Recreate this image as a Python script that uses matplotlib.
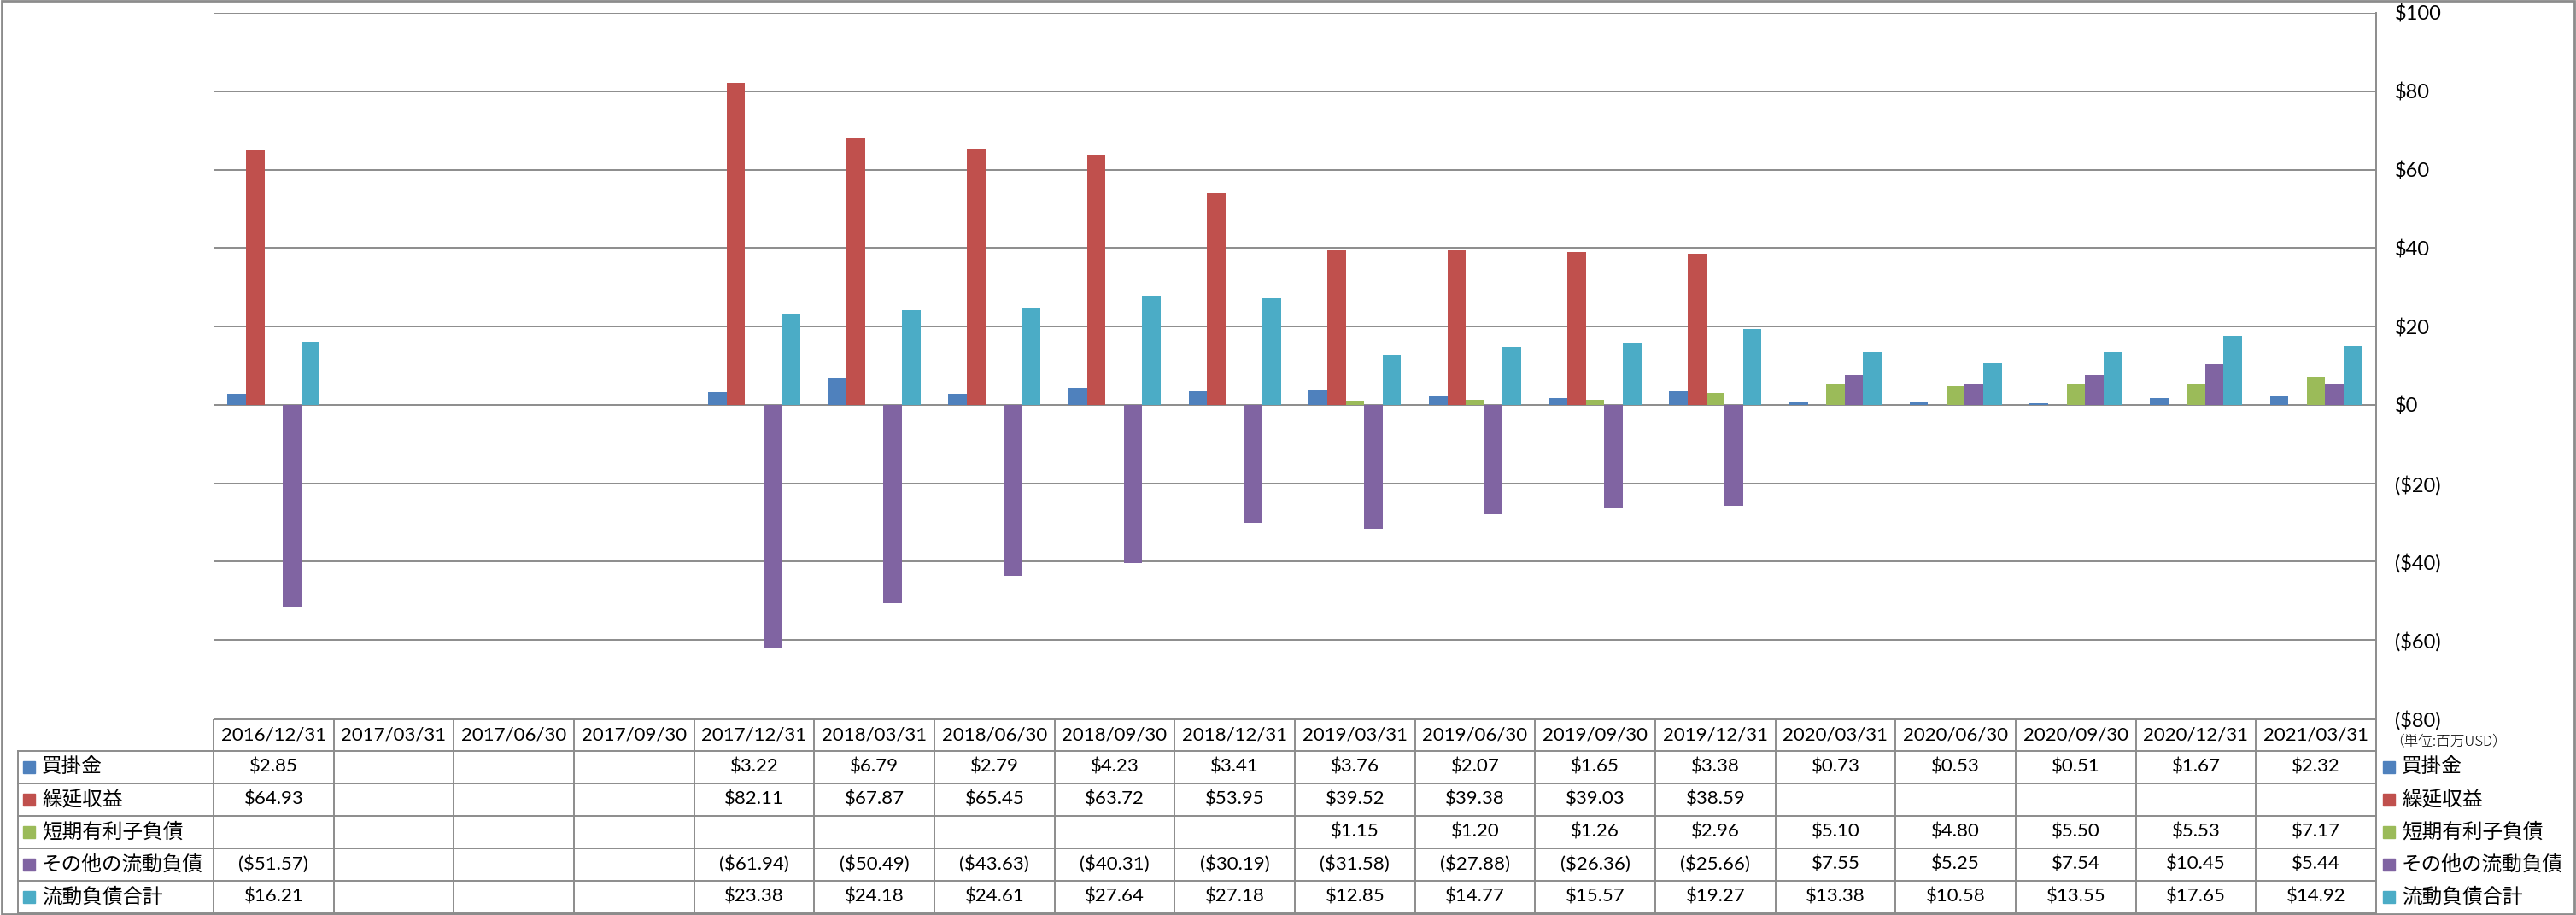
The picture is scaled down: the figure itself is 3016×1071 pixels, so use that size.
import numpy as np
import matplotlib.pyplot as plt
import matplotlib.transforms as mtransforms
from matplotlib.patches import Rectangle
from matplotlib.lines import Line2D

plt.rcParams['font.family'] = ['Lato', 'Noto Sans CJK JP', 'DejaVu Sans']

dates = ['2016/12/31', '2017/03/31', '2017/06/30', '2017/09/30', '2017/12/31',
         '2018/03/31', '2018/06/30', '2018/09/30', '2018/12/31', '2019/03/31',
         '2019/06/30', '2019/09/30', '2019/12/31', '2020/03/31', '2020/06/30',
         '2020/09/30', '2020/12/31', '2021/03/31']

kaikake = [2.85, None, None, None, 3.22, 6.79, 2.79, 4.23, 3.41, 3.76,
           2.07, 1.65, 3.38, 0.73, 0.53, 0.51, 1.67, 2.32]
kurinobe = [64.93, None, None, None, 82.11, 67.87, 65.45, 63.72, 53.95, 39.52,
            39.38, 39.03, 38.59, None, None, None, None, None]
tanki = [None, None, None, None, None, None, None, None, None, 1.15,
         1.20, 1.26, 2.96, 5.10, 4.80, 5.50, 5.53, 7.17]
sonota = [-51.57, None, None, None, -61.94, -50.49, -43.63, -40.31, -30.19, -31.58,
          -27.88, -26.36, -25.66, 7.55, 5.25, 7.54, 10.45, 5.44]
goukei = [16.21, None, None, None, 23.38, 24.18, 24.61, 27.64, 27.18, 12.85,
          14.77, 15.57, 19.27, 13.38, 10.58, 13.55, 17.65, 14.92]

names = ['買掛金', '繰延収益', '短期有利子負債', 'その他の流動負債', '流動負債合計']
series = [kaikake, kurinobe, tanki, sonota, goukei]
colors = ['#4F81BD', '#C0504D', '#9BBB59', '#8064A2', '#4BACC6']
grid_c = '#8c8c8c'


def money(v):
    if v is None:
        return ''
    if v < 0:
        return '(${:.2f})'.format(-v)
    return '${:.2f}'.format(v)


W, H = 3016, 1071
fig = plt.figure(figsize=(W / 100, H / 100), dpi=100)


def fx(px):
    return px / W


def fy(py):
    return 1 - py / H


ax = fig.add_axes([fx(250), fy(841), fx(2782) - fx(250), fy(15) - fy(841)])
n = len(dates)
x = np.arange(n)
bw = 1 / 6.5
for k, (vals, c) in enumerate(zip(series, colors)):
    v = np.array([np.nan if a is None else a for a in vals], float)
    ax.bar(x + (k - 2) * bw, v, width=bw, color=c, zorder=3)

ax.set_xlim(-0.5, n - 0.5)
ax.set_ylim(-80, 100)
ticks = list(range(-80, 101, 20))
ax.set_yticks(ticks)
ax.set_yticklabels(['($%d)' % -t if t < 0 else '$%d' % t for t in ticks])
for lab, t in zip(ax.get_yticklabels(), ticks):
    if t < 0:
        lab.set_color('red')
ax.grid(axis='y', color=grid_c, lw=1.4)
ax.set_axisbelow(True)
for s in ['left', 'top', 'bottom']:
    ax.spines[s].set_visible(False)
ax.spines['right'].set_color(grid_c)
ax.spines['right'].set_linewidth(1.4)
ax.yaxis.tick_right()
ax.tick_params(axis='y', length=0, pad=16, labelsize=17)
ax.set_xticks([])

fig.text(fx(2798), fy(868), '（単位:百万USD）', fontsize=12, va='center',
         family=['Noto Sans CJK JP'], fontweight='light')

# data table
tr = mtransforms.blended_transform_factory(ax.transData, fig.transFigure)
row_y = [842, 879, 917, 955, 993, 1031, 1069]


def hline(x0, x1, ypx):
    fig.add_artist(Line2D([fx(x0), fx(x1)], [fy(ypx), fy(ypx)],
                          transform=fig.transFigure, color=grid_c, lw=1.4))


def vline(xd, y0, y1):
    fig.add_artist(Line2D([xd, xd], [fy(y0), fy(y1)], transform=tr,
                          color=grid_c, lw=1.4))


hline(250, 2782, row_y[0])
for yy in row_y[1:]:
    hline(21, 2782, yy)
for i in range(n + 1):
    vline(i - 0.5, row_y[0], row_y[-1])
fig.add_artist(Line2D([fx(21), fx(21)], [fy(row_y[1]), fy(row_y[-1])],
                      transform=fig.transFigure, color=grid_c, lw=1.4))

for i, d in enumerate(dates):
    fig.text(i, fy((row_y[0] + row_y[1]) / 2), d, transform=tr,
             ha='center', va='center', fontsize=16)

for r, (name, vals, c) in enumerate(zip(names, series, colors)):
    yc = (row_y[r + 1] + row_y[r + 2]) / 2
    fig.add_artist(Rectangle((fx(27), fy(yc + 7)), fx(14), 14 / H,
                             transform=fig.transFigure, color=c))
    fig.text(fx(49), fy(yc), name, fontsize=17, va='center',
             family=['Noto Sans CJK JP'])
    for i, v in enumerate(vals):
        fig.text(i, fy(yc), money(v), transform=tr, ha='center',
                 va='center', fontsize=16)
    # right legend
    fig.add_artist(Rectangle((fx(2790), fy(yc + 7)), fx(14), 14 / H,
                             transform=fig.transFigure, color=c))
    fig.text(fx(2812), fy(yc), name, fontsize=17, va='center',
             family=['Noto Sans CJK JP'])

# outer chart border
fig.add_artist(Rectangle((0.0005, 0.001), 0.999, 0.998, transform=fig.transFigure,
                         fill=False, edgecolor=grid_c, lw=2))

fig.savefig('out.png', dpi=100)
